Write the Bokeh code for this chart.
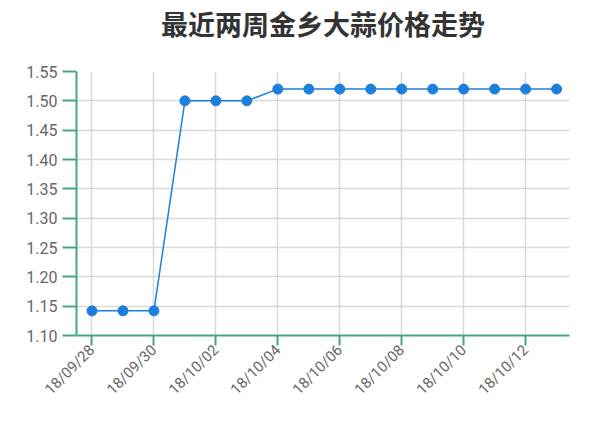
import datetime as dt
from math import pi
from bokeh.plotting import figure
from bokeh.models import (FixedTicker, DatetimeTickFormatter, NumeralTickFormatter,
                          Range1d, LinearAxis, CustomJSTickFormatter)
from bokeh.embed import file_html
from bokeh.resources import INLINE

title_text = "最近两周金乡大蒜价格走势"
dates = ["2018-09-28", "2018-09-29", "2018-09-30", "2018-10-01", "2018-10-02",
         "2018-10-03", "2018-10-04", "2018-10-05", "2018-10-06", "2018-10-07",
         "2018-10-08", "2018-10-09", "2018-10-10", "2018-10-11", "2018-10-12",
         "2018-10-13"]
prices = [1.142, 1.142, 1.142, 1.50, 1.50, 1.50, 1.52, 1.52, 1.52, 1.52,
          1.52, 1.52, 1.52, 1.52, 1.52, 1.52]
y_ticks = [1.10, 1.15, 1.20, 1.25, 1.30, 1.35, 1.40, 1.45, 1.50, 1.55]

x = [dt.datetime.strptime(d, "%Y-%m-%d") for d in dates]
x_ticks = [(d - dt.datetime(1970, 1, 1)).total_seconds() * 1000 for d in x[::2]]

AX = "#45a585"
LINE = "#1d7fda"

p = figure(width=584, height=407, x_axis_type="datetime",
           output_backend="svg", toolbar_location=None,
           min_border_left=76, min_border_right=15, min_border_top=68, min_border_bottom=70,
           x_range=Range1d(x[0] - dt.timedelta(hours=12), x[-1] + dt.timedelta(hours=10)),
           y_range=Range1d(1.10, 1.55))
p.outline_line_color = None
p.title.text = title_text
p.title.align = "center"
p.title.vertical_align = "bottom"
p.title.standoff = 2
p.title.text_font = "Noto Sans CJK SC"
p.title.text_font_size = "27px"
p.title.text_font_style = "bold"
p.title.text_color = "#333333"

xax = p.below[0]
yax = p.left[0]

# invisible spacer between the title and the plot area (one hidden tick, no label)
spacer = LinearAxis(ticker=FixedTicker(ticks=x_ticks[:1]),
                    formatter=CustomJSTickFormatter(code="return ''"),
                    axis_line_color=None, major_tick_line_color=None,
                    minor_tick_line_color=None, major_tick_in=0, major_tick_out=28,
                    major_label_standoff=0, major_label_text_font_size="0px")
p.add_layout(spacer, "above")

p.line(x, prices, line_color=LINE, line_width=1.5)
p.scatter(x, prices, size=10, fill_color=LINE, line_color=LINE)

xax.ticker = FixedTicker(ticks=x_ticks)
xax.formatter = DatetimeTickFormatter(days="%y/%m/%d", months="%y/%m/%d")
xax.major_label_orientation = pi / 4
yax.ticker = FixedTicker(ticks=y_ticks)
yax.formatter = NumeralTickFormatter(format="0.00")

for ax in (xax, yax):
    ax.axis_line_color = AX
    ax.axis_line_width = 2
    ax.major_tick_line_color = AX
    ax.major_tick_line_width = 2
    ax.major_tick_in = 0
    ax.minor_tick_line_color = None
    ax.major_label_text_font = "Roboto"
    ax.major_label_text_color = "#666666"
yax.major_label_text_font_size = "16px"
xax.major_label_text_font_size = "15px"
yax.major_tick_out = 14
xax.major_tick_out = 10
xax.major_label_standoff = 2

p.xgrid.ticker = FixedTicker(ticks=x_ticks)
p.grid.grid_line_color = "#d8d8d8"
p.grid.grid_line_width = 1.5

open("out.html", "w").write(file_html(p, INLINE))
